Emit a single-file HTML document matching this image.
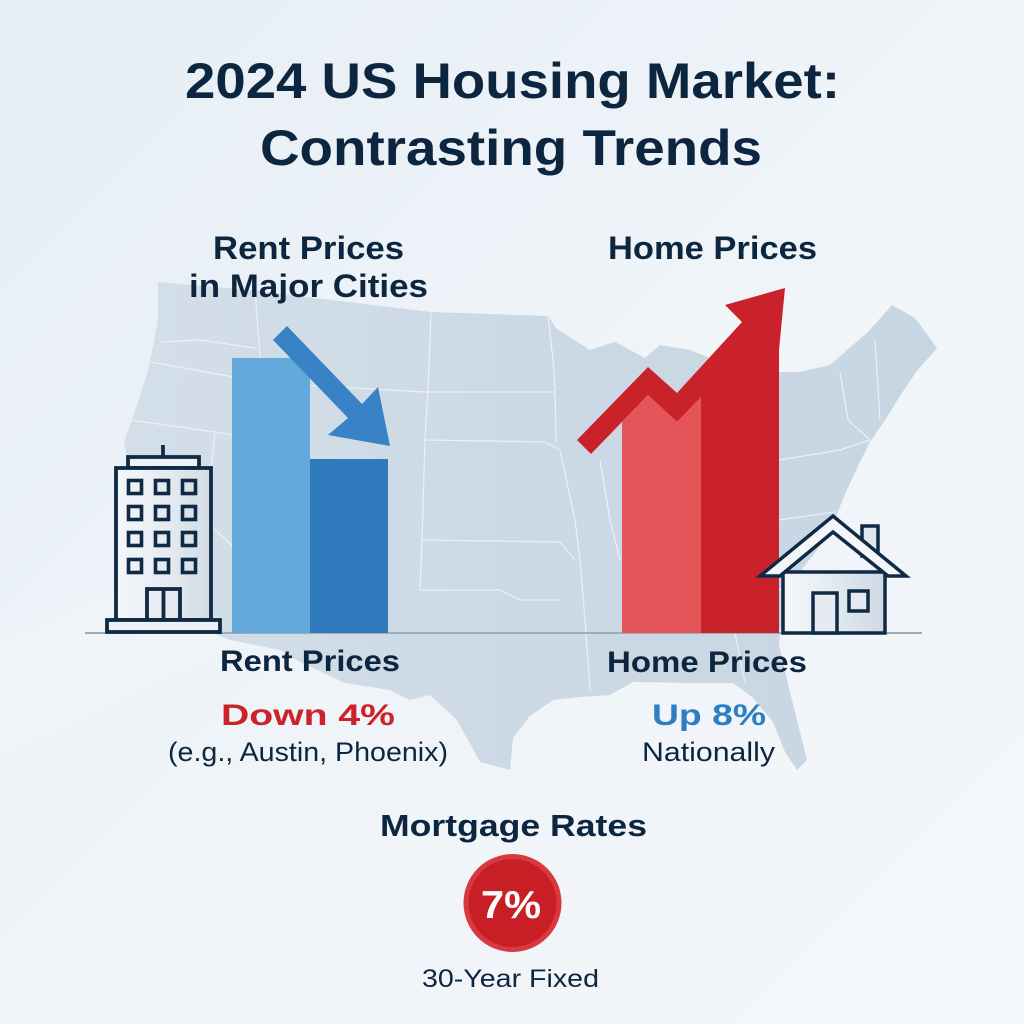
<!DOCTYPE html>
<html>
<head>
<meta charset="utf-8">
<style>
html,body{margin:0;padding:0;width:1024px;height:1024px;overflow:hidden;background:#eef3f8;}
svg{display:block;}
text{font-family:"Liberation Sans",Arial,sans-serif;}
</style>
</head>
<body>
<svg width="1024" height="1024" viewBox="0 0 1024 1024" xmlns="http://www.w3.org/2000/svg">
<defs>
<linearGradient id="bg" x1="0" y1="0" x2="1" y2="1">
<stop offset="0" stop-color="#e6eef5"/>
<stop offset="0.5" stop-color="#eff4f8"/>
<stop offset="1" stop-color="#f4f7fa"/>
</linearGradient>
<linearGradient id="mapg" x1="0" y1="0" x2="1" y2="0">
<stop offset="0" stop-color="#d3dee8"/>
<stop offset="0.5" stop-color="#ccd9e5"/>
<stop offset="1" stop-color="#c7d6e3"/>
</linearGradient>
<linearGradient id="bld" x1="0" y1="0" x2="1" y2="0">
<stop offset="0" stop-color="#f5f8fb"/>
<stop offset="0.6" stop-color="#e3e9ef"/>
<stop offset="1" stop-color="#d2dbe4"/>
</linearGradient>
<linearGradient id="hs" x1="0" y1="0" x2="1" y2="0">
<stop offset="0" stop-color="#f6f8fb"/>
<stop offset="0.5" stop-color="#e2e9f0"/>
<stop offset="1" stop-color="#cfd9e3"/>
</linearGradient>
</defs>

<rect width="1024" height="1024" fill="url(#bg)"/>
<polygon points="0,640 1024,180 1024,260 0,760" fill="#ffffff" opacity="0.18"/>

<!-- US map -->
<polygon fill="url(#mapg)" points="158,282 250,290 340,301 431,312 548,316 556,328 590,350 615,342 645,358 660,345 690,350 720,362 760,372 800,372 830,365 868,332 892,305 915,318 937,348 916,372 900,396 885,420 870,442 858,466 846,492 836,516 820,546 800,572 790,602 780,632 779,645 790,692 807,760 797,770 785,752 773,722 752,697 733,683 690,683 633,682 610,695 580,697 553,700 530,716 513,738 510,770 480,762 457,720 430,695 410,700 390,690 345,683 300,662 280,650 230,640 212,633 198,612 175,570 150,522 130,472 124,442 138,402 148,370 154,342 158,318"/>
<g stroke="#eef3f7" stroke-width="1.2" fill="none" opacity="0.9">
<polyline points="160,342 200,340 255,348"/>
<polyline points="255,292 258,330 262,382"/>
<polyline points="262,382 150,362"/>
<polyline points="262,382 300,385 425,392"/>
<polyline points="431,313 428,390 425,440 422,540"/>
<polyline points="425,440 545,442 560,450"/>
<polyline points="548,316 553,360 555,388 556,442"/>
<polyline points="425,392 555,392"/>
<polyline points="422,540 560,542 575,560"/>
<polyline points="422,540 420,590 500,590 520,600 560,600"/>
<polyline points="560,450 575,520 580,560 585,620 590,690"/>
<polyline points="130,420 215,432 262,440 262,520"/>
<polyline points="262,520 330,528 330,600"/>
<polyline points="215,432 205,520 300,610"/>
<polyline points="600,460 610,520 620,560"/>
<polyline points="779,460 840,450 870,440"/>
<polyline points="779,520 835,512"/>
<polyline points="779,590 820,575"/>
<polyline points="840,372 848,420 870,440"/>
<polyline points="875,340 880,420"/>
<polyline points="735,633 745,683"/>
</g>

<!-- baseline -->
<line x1="85" y1="633" x2="922" y2="633" stroke="#9eabb8" stroke-width="2"/>

<!-- building -->
<g stroke="#0f2a44" stroke-width="3.8" stroke-linejoin="miter">
<line x1="163" y1="445" x2="163" y2="457"/>
<rect x="128" y="457" width="71" height="11" fill="#eef2f6"/>
<rect x="116" y="468" width="95" height="152" fill="url(#bld)"/>
<g fill="none" stroke-width="3.6">
<rect x="128.5" y="480.5" width="13" height="13"/><rect x="155.5" y="480.5" width="13" height="13"/><rect x="182.5" y="480.5" width="13" height="13"/>
<rect x="128.5" y="506.5" width="13" height="13"/><rect x="155.5" y="506.5" width="13" height="13"/><rect x="182.5" y="506.5" width="13" height="13"/>
<rect x="128.5" y="532.5" width="13" height="13"/><rect x="155.5" y="532.5" width="13" height="13"/><rect x="182.5" y="532.5" width="13" height="13"/>
<rect x="128.5" y="559.5" width="13" height="13"/><rect x="155.5" y="559.5" width="13" height="13"/><rect x="182.5" y="559.5" width="13" height="13"/>
</g>
<rect x="147" y="589" width="33" height="31" fill="none"/>
<line x1="163.5" y1="589" x2="163.5" y2="620"/>
<rect x="107" y="620" width="113" height="12" fill="#eef2f6"/>
</g>

<!-- blue bars -->
<rect x="232" y="358" width="78" height="275" fill="#63a9dc"/>
<rect x="310" y="459" width="78" height="174" fill="#2f79bd"/>
<!-- blue arrow -->
<polygon fill="#3a82c6" points="287,326 362,404 378,387 390,446 328,435 348,418 273,340"/>

<!-- red arrow + bars -->
<polygon fill="#c9222a" points="725,305 785,288 779,350 779,633 701,633 701,397 677,422 648,395 591,454 577,440 648,367 677,393 742,322"/>
<polygon fill="#e35558" points="622,633 622,422 648,395 677,422 701,397 701,633"/>

<!-- house -->
<g stroke="#0f2a44" stroke-width="3.5" stroke-linejoin="miter">
<rect x="862" y="526" width="16" height="30" fill="#dfe6ee"/>
<rect x="783" y="572" width="102" height="61" fill="url(#hs)"/>
<polygon points="760,576 833,516 906,576 888,576 833,532 780,576" fill="#f3f6f9"/>
<rect x="813" y="593" width="24" height="40" fill="#e4eaf0"/>
<rect x="849" y="591" width="19" height="20" fill="#e4eaf0"/>
</g>

<!-- mortgage circle -->
<circle cx="512.5" cy="903" r="49" fill="#d8383e"/>
<circle cx="512.5" cy="903" r="44" fill="#c81f27"/>

<!-- text -->
<g fill="#0d2640" font-weight="bold">
<text x="185" y="98" font-size="50" textLength="655" lengthAdjust="spacingAndGlyphs">2024 US Housing Market:</text>
<text x="260" y="165" font-size="50" textLength="502" lengthAdjust="spacingAndGlyphs">Contrasting Trends</text>
<text x="213" y="259" font-size="32" textLength="191" lengthAdjust="spacingAndGlyphs">Rent Prices</text>
<text x="189" y="297" font-size="32" textLength="239" lengthAdjust="spacingAndGlyphs">in Major Cities</text>
<text x="608" y="259" font-size="32" textLength="209" lengthAdjust="spacingAndGlyphs">Home Prices</text>
<text x="220" y="671" font-size="30" textLength="180" lengthAdjust="spacingAndGlyphs">Rent Prices</text>
<text x="607" y="672" font-size="30" textLength="200" lengthAdjust="spacingAndGlyphs">Home Prices</text>
<text x="380" y="836" font-size="31" textLength="267" lengthAdjust="spacingAndGlyphs">Mortgage Rates</text>
</g>
<text x="221" y="725" font-size="30" font-weight="bold" fill="#cc2229" textLength="174" lengthAdjust="spacingAndGlyphs">Down 4%</text>
<text x="652" y="725" font-size="30" font-weight="bold" fill="#2e7fc2" textLength="114" lengthAdjust="spacingAndGlyphs">Up 8%</text>
<g fill="#0d2640">
<text x="168" y="761" font-size="27" textLength="280" lengthAdjust="spacingAndGlyphs">(e.g., Austin, Phoenix)</text>
<text x="642" y="761" font-size="27" textLength="133" lengthAdjust="spacingAndGlyphs">Nationally</text>
<text x="422" y="987" font-size="25" textLength="177" lengthAdjust="spacingAndGlyphs">30-Year Fixed</text>
</g>
<text x="481" y="918" font-size="39" font-weight="bold" fill="#ffffff" textLength="60" lengthAdjust="spacingAndGlyphs">7%</text>
</svg>
</body>
</html>
